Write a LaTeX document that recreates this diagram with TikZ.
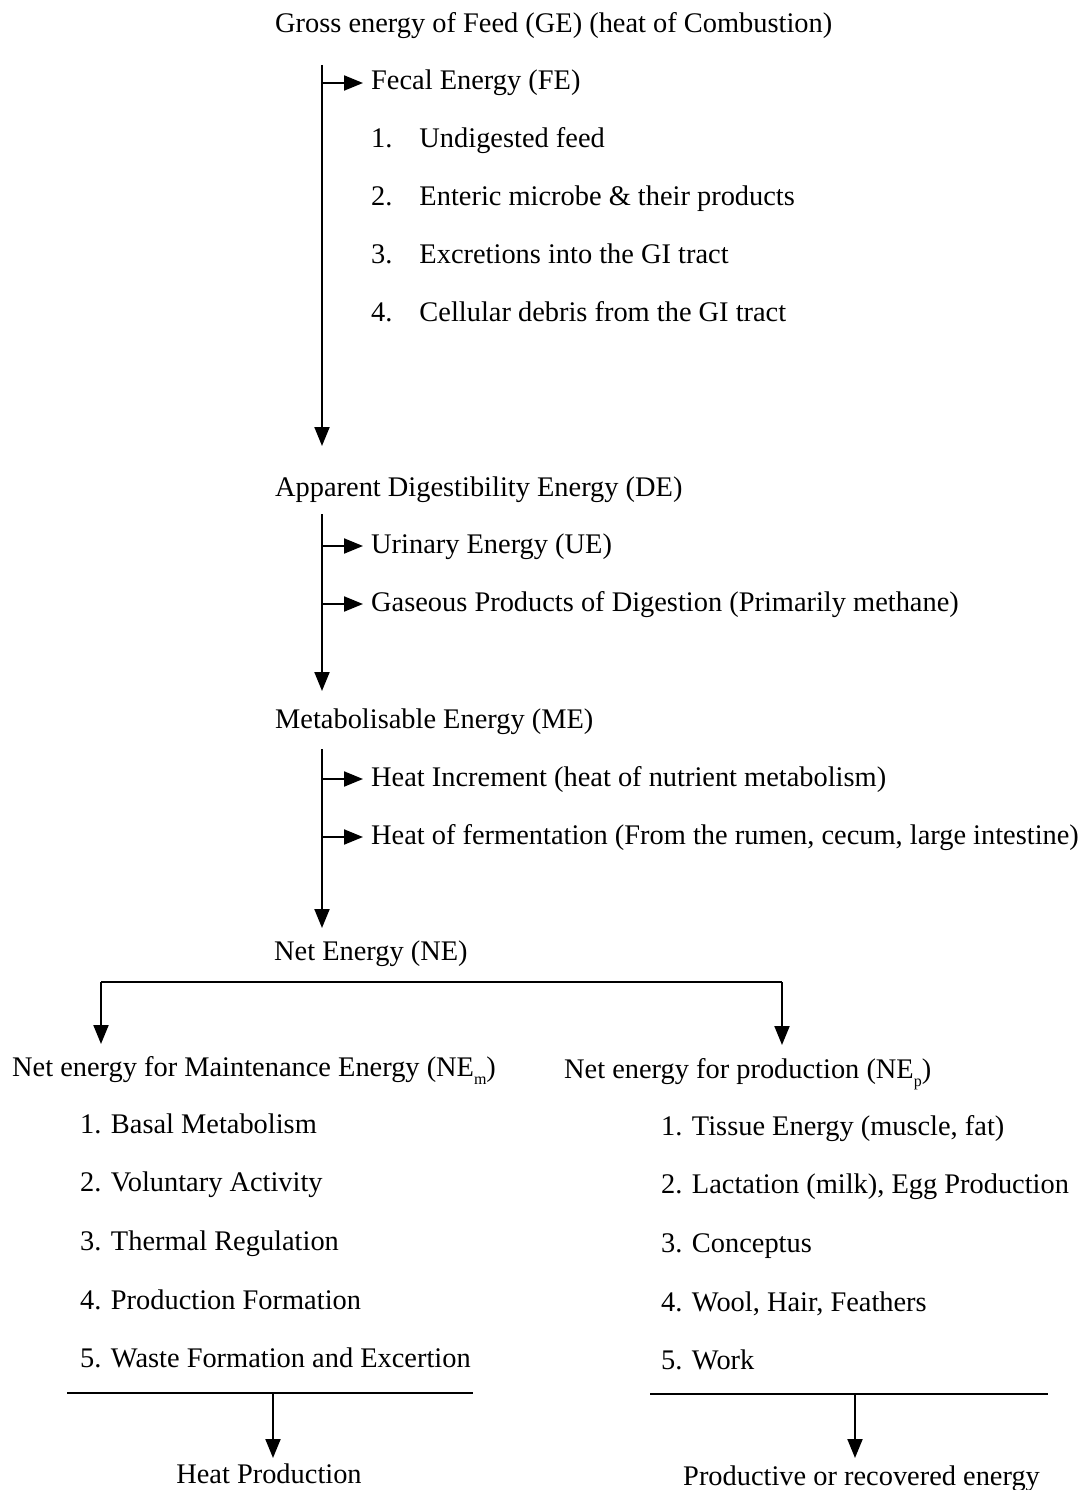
\documentclass[tikz,border=0pt]{standalone}
\usepackage{fontspec}
\setmainfont{Liberation Serif}
\usetikzlibrary{arrows.meta}
\begin{document}
\begin{tikzpicture}[x=1pt,y=-1pt,
  txt/.style={anchor=base west,inner sep=0pt,text height=19pt,text depth=5pt,font=\fontsize{28.4}{34}\selectfont},
  ctxt/.style={txt,anchor=base},
  ln/.style={line width=2pt},
  arr/.style={line width=2pt,-{Triangle[length=19pt,width=15pt]}}]
\useasboundingbox (0,0) rectangle (1079,1490);
\newcommand{\subs}[1]{\raisebox{-0.3em}{\fontsize{16}{16}\selectfont #1}}
% block 1
\node[txt] (ge) at (275,33) {Gross energy of Feed (GE) (heat of Combustion)};
\node[txt] (fe) at (371,90) {Fecal Energy (FE)};
\node[txt] (f1) at (371,148) {1.\hspace{27pt}Undigested feed};
\node[txt] (f2) at (371,205) {2.\hspace{27pt}Enteric microbe \& their products};
\node[txt] (f3) at (371,263) {3.\hspace{27pt}Excretions into the GI tract};
\node[txt] (f4) at (371,321) {4.\hspace{27pt}Cellular debris from the GI tract};
\coordinate (s1t) at (322,65);
\coordinate (s1b) at (322,446);
\draw[arr] (s1t) -- (s1b);
\draw[arr] (s1t |- fe.west) -- ([xshift=-8pt]fe.west);
% block 2
\node[txt] (de) at (275,496) {Apparent Digestibility Energy (DE)};
\node[txt] (ue) at (371,553) {Urinary Energy (UE)};
\node[txt] (gp) at (371,611) {Gaseous Products of Digestion (Primarily methane)};
\coordinate (s2t) at (322,514);
\coordinate (s2b) at (322,691);
\draw[arr] (s2t) -- (s2b);
\draw[arr] (s2t |- ue.west) -- ([xshift=-8pt]ue.west);
\draw[arr] (s2t |- gp.west) -- ([xshift=-8pt]gp.west);
% block 3
\node[txt] (me) at (275,728) {Metabolisable Energy (ME)};
\node[txt] (hi) at (371,786) {Heat Increment (heat of nutrient metabolism)};
\node[txt] (hf) at (371,844) {Heat of fermentation (From the rumen, cecum, large intestine)};
\coordinate (s3t) at (322,749);
\coordinate (s3b) at (322,928);
\draw[arr] (s3t) -- (s3b);
\draw[arr] (s3t |- hi.west) -- ([xshift=-8pt]hi.west);
\draw[arr] (s3t |- hf.west) -- ([xshift=-8pt]hf.west);
% NE
\node[txt] (ne) at (274,960) {Net Energy (NE)};
\coordinate (bl) at (101,982);
\coordinate (br) at (782,982);
\coordinate (blb) at (101,1044);
\coordinate (brb) at (782,1045);
\draw[ln] (bl) -- (br);
\draw[arr] (bl) -- (blb);
\draw[arr] (br) -- (brb);
% left column
\node[txt] (nem) at (12,1076) {Net energy for Maintenance Energy (NE\subs{m})};
\node[txt] (m1) at (80,1133) {1. Basal Metabolism};
\node[txt] (m2) at (80,1191) {2. Voluntary Activity};
\node[txt] (m3) at (80,1250) {3. Thermal Regulation};
\node[txt] (m4) at (80,1309) {4. Production Formation};
\node[txt] (m5) at (80,1367) {5. Waste Formation and Excertion};
\coordinate (ll) at (67,1393);
\coordinate (lr) at (473,1393);
\coordinate (lm) at (273,1393);
\coordinate (lmb) at (273,1458);
\draw[ln] (ll) -- (lr);
\draw[arr] (lm) -- (lmb);
\node[ctxt] (hp) at (269,1483) {Heat Production};
% right column
\node[txt] (nep) at (564,1078) {Net energy for production (NE\subs{p})};
\node[txt] (p1) at (661,1135) {1. Tissue Energy (muscle, fat)};
\node[txt] (p2) at (661,1193) {2. Lactation (milk), Egg Production};
\node[txt] (p3) at (661,1252) {3. Conceptus};
\node[txt] (p4) at (661,1311) {4. Wool, Hair, Feathers};
\node[txt] (p5) at (661,1369) {5. Work};
\coordinate (rl) at (650,1394);
\coordinate (rr) at (1048,1394);
\coordinate (rm) at (855,1394);
\coordinate (rmb) at (855,1458);
\draw[ln] (rl) -- (rr);
\draw[arr] (rm) -- (rmb);
\node[txt] (pr) at (683,1485) {Productive or recovered energy};
\end{tikzpicture}
\end{document}
